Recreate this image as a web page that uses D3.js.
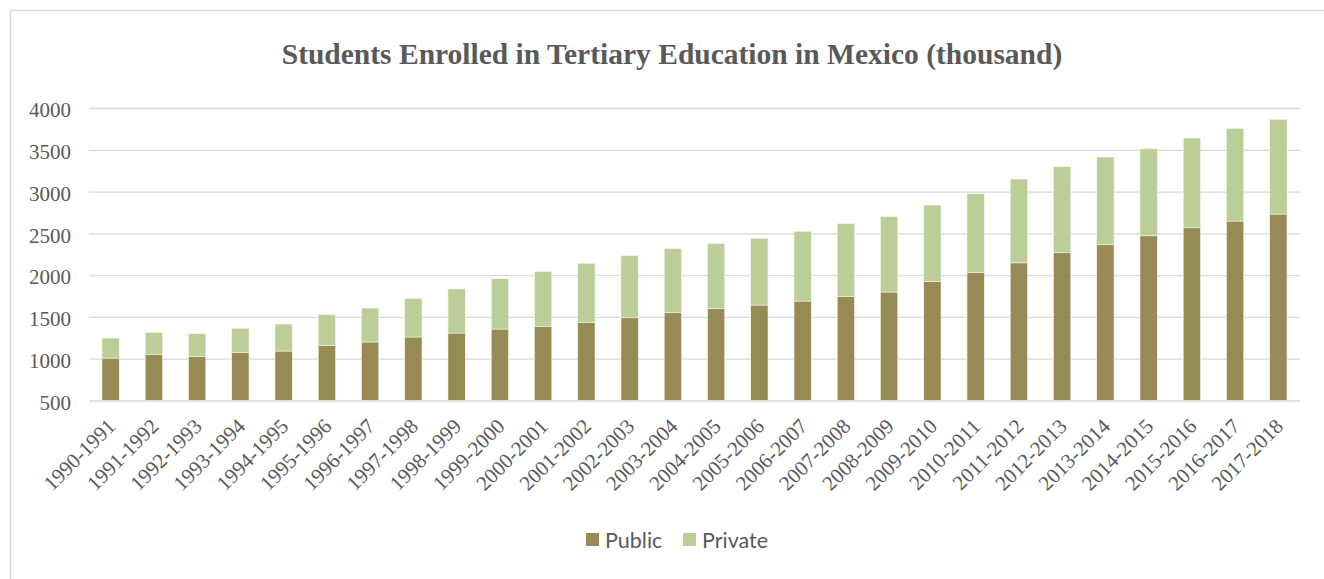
<!DOCTYPE html>
<html>
<head>
<meta charset="utf-8">
<script src="https://cdn.jsdelivr.net/npm/d3@7"></script>
<style>
  body { margin: 0; background: #fff; }
</style>
</head>
<body>
<div id="chart"></div>
<script>
// school years on the x axis
const periods = ["1990-1991", "1991-1992", "1992-1993", "1993-1994", "1994-1995", "1995-1996",
  "1996-1997", "1997-1998", "1998-1999", "1999-2000", "2000-2001", "2001-2002", "2002-2003",
  "2003-2004", "2004-2005", "2005-2006", "2006-2007", "2007-2008", "2008-2009", "2009-2010",
  "2010-2011", "2011-2012", "2012-2013", "2013-2014", "2014-2015", "2015-2016", "2016-2017",
  "2017-2018"];

// thousands of students
const publicVals = [1008, 1053, 1024, 1072, 1092, 1160, 1200, 1260, 1307, 1355, 1383, 1435, 1490,
  1550, 1598, 1642, 1690, 1742, 1798, 1926, 2029, 2147, 2268, 2364, 2471, 2567, 2647, 2731];
const privateVals = [239, 263, 275, 292, 323, 366, 406, 460, 527, 602, 658, 706, 742,
  766, 778, 798, 834, 873, 901, 912, 945, 1003, 1029, 1049, 1041, 1073, 1109, 1133];

const yTicks = [500, 1000, 1500, 2000, 2500, 3000, 3500, 4000];
const seriesNames = ["Public", "Private"];
const colors = ["#968b54", "#bbce97"];

const w = 1324, h = 579;
const plotLeft = 89, plotRight = 1300, plotTop = 108, plotBottom = 400.5;

const svg = d3.select("#chart").append("svg")
  .attr("width", w)
  .attr("height", h);

// chart area border (runs off the right and bottom)
svg.append("rect")
  .attr("x", 10.5).attr("y", 10.5)
  .attr("width", 1400).attr("height", 1000)
  .attr("fill", "#fff")
  .attr("stroke", "#d9d9d9")
  .attr("stroke-width", 1.5);

svg.append("text")
  .attr("x", 672)
  .attr("y", 64)
  .attr("text-anchor", "middle")
  .attr("font-family", "'Liberation Serif', 'Times New Roman', serif")
  .attr("font-weight", "bold")
  .attr("font-size", 29.5)
  .attr("fill", "#595959")
  .text("Students Enrolled in Tertiary Education in Mexico (thousand)");

const x = d3.scaleBand()
  .domain(periods)
  .range([plotLeft, plotRight])
  .paddingInner(0.6)
  .paddingOuter(0.3);

const y = d3.scaleLinear()
  .domain([500, 4000])
  .range([plotBottom, plotTop]);

// y axis + gridlines
const yAxis = svg.append("g")
  .attr("transform", "translate(" + plotLeft + ",0)")
  .call(d3.axisLeft(y).tickValues(yTicks).tickFormat(d3.format("d"))
    .tickSize(-(plotRight - plotLeft)).tickPadding(18));
yAxis.select(".domain").remove();
yAxis.selectAll("line").attr("stroke", "#d9d9d9").attr("stroke-width", 1.3);
yAxis.selectAll("text")
  .attr("font-family", "'Liberation Serif', 'Times New Roman', serif")
  .attr("font-size", 21)
  .attr("fill", "#595959")
  .attr("dy", "0.42em");

// stacked bars
const rows = periods.map((p, i) => ({ period: p, Public: publicVals[i], Private: privateVals[i] }));
const stacked = d3.stack().keys(seriesNames)(rows);

svg.selectAll(".series")
  .data(stacked)
  .enter()
  .append("g")
  .attr("fill", (d, i) => colors[i])
  .selectAll("rect")
  .data(d => d)
  .enter()
  .append("rect")
  .attr("x", d => x(d.data.period))
  .attr("width", x.bandwidth())
  .attr("y", d => y(Math.max(d[1], 500)))
  .attr("height", d => y(Math.max(d[0], 500)) - y(Math.max(d[1], 500)))
  .attr("stroke", "#f4f4ea")
  .attr("stroke-width", 0.6);

// x axis labels, rotated
const xAxis = svg.append("g")
  .attr("transform", "translate(0," + plotBottom + ")")
  .call(d3.axisBottom(x).tickSize(0));
xAxis.select(".domain").remove();
xAxis.selectAll("text")
  .attr("y", 0)
  .attr("dy", 0)
  .attr("text-anchor", "end")
  .attr("transform", "translate(6,27) rotate(-45)")
  .attr("font-family", "'Liberation Serif', 'Times New Roman', serif")
  .attr("font-size", 21)
  .attr("fill", "#595959");

// legend
const legendX = [586, 683];
const legend = svg.append("g");
seriesNames.forEach((name, i) => {
  legend.append("rect")
    .attr("x", legendX[i]).attr("y", 533)
    .attr("width", 13).attr("height", 13)
    .attr("fill", colors[i]);
  legend.append("text")
    .attr("x", legendX[i] + 19)
    .attr("y", 548)
    .attr("font-family", "Lato, 'Open Sans', sans-serif")
    .attr("font-size", 21.5)
    .attr("fill", "#595959")
    .text(name);
});
</script>
</body>
</html>
